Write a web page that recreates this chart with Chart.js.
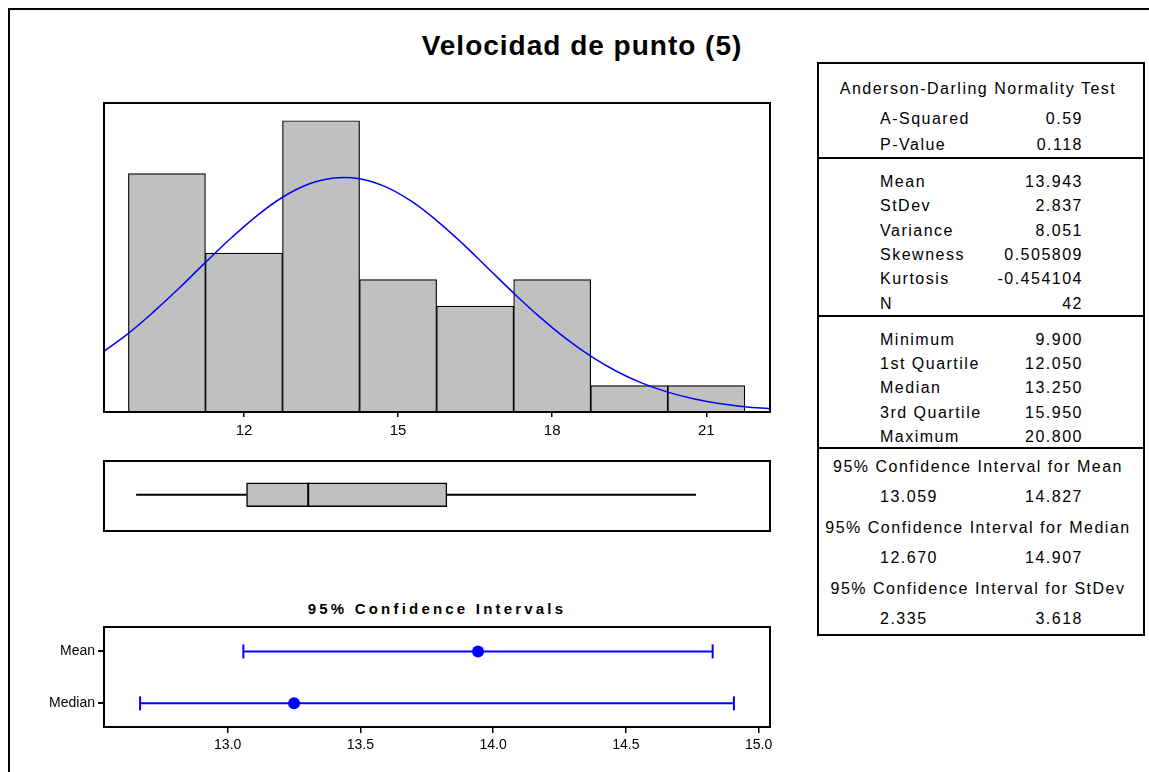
<!DOCTYPE html>
<html><head><meta charset="utf-8">
<script src="https://cdn.jsdelivr.net/npm/chart.js@4.4.1/dist/chart.umd.min.js"></script>
<style>
html,body{margin:0;padding:0;background:#fff;}
body{width:1149px;height:772px;position:relative;overflow:hidden;font-family:"Liberation Sans",Arial,sans-serif;color:#000;}
canvas{position:absolute;left:0;top:0;}
.t{position:absolute;white-space:nowrap;height:20px;line-height:20px;font-size:16px;letter-spacing:1.5px;}
.line{position:absolute;background:#000;}
</style></head><body>
<div class="line" style="left:8px;top:8px;width:1141px;height:2px"></div>
<div class="line" style="left:8px;top:8px;width:2px;height:764px"></div>
<div id="mainTitle" class="t" style="left:582px;top:30px;height:32px;line-height:32px;font-size:28px;font-weight:bold;letter-spacing:1px;transform:translateX(-50%)">Velocidad de punto (5)</div>
<div id="ciTitle" class="t" style="left:437px;top:599px;font-size:15px;font-weight:bold;letter-spacing:3.2px;transform:translateX(-50%)">95% Confidence Intervals</div>
<div style="position:absolute;left:817px;top:62px;width:328px;height:574px;border:2px solid #000;box-sizing:border-box"></div>
<div class="line" style="left:817px;top:157px;width:328px;height:2px"></div>
<div class="line" style="left:817px;top:315px;width:328px;height:2px"></div>
<div class="line" style="left:817px;top:447px;width:328px;height:2px"></div>
<div id="stats"></div>
<canvas id="hist" width="1149" height="772"></canvas>
<canvas id="box" width="1149" height="772"></canvas>
<canvas id="ci" width="1149" height="772"></canvas>
<script>
// ---- data ----
const binCenters = [10.5, 12, 13.5, 15, 16.5, 18, 19.5, 21];
const binCounts  = [9, 6, 11, 5, 4, 5, 1, 1];
const histTicks  = [12, 15, 18, 21];
const curveX = [9.25, 9.75, 10.25, 10.75, 11.25, 11.75, 12.25, 12.75, 13.25, 13.75, 14.25, 14.75, 15.25, 15.75, 16.25, 16.75, 17.25, 17.75, 18.25, 18.75, 19.25, 19.75, 20.25, 20.75, 21.25, 21.75, 22.25];
const curveY = [2.26, 2.97, 3.80, 4.70, 5.65, 6.57, 7.41, 8.11, 8.60, 8.84, 8.81, 8.51, 7.97, 7.23, 6.37, 5.43, 4.49, 3.60, 2.80, 2.11, 1.54, 1.09, 0.75, 0.50, 0.32, 0.20, 0.12];

const adLabels = ['A-Squared', 'P-Value'];
const adValues = ['0.59', '0.118'];
const descLabels = ['Mean', 'StDev', 'Variance', 'Skewness', 'Kurtosis', 'N'];
const descValues = ['13.943', '2.837', '8.051', '0.505809', '-0.454104', '42'];
const quantLabels = ['Minimum', '1st Quartile', 'Median', '3rd Quartile', 'Maximum'];
const quantValues = ['9.900', '12.050', '13.250', '15.950', '20.800'];
const ciHeads = ['95% Confidence Interval for Mean', '95% Confidence Interval for Median', '95% Confidence Interval for StDev'];
const ciLow  = ['13.059', '12.670', '2.335'];
const ciHigh = ['14.827', '14.907', '3.618'];
const ciCategories = ['Median', 'Mean'];
const ciTicks = [13.0, 13.5, 14.0, 14.5, 15.0];

// ---- text panel ----
const stats = document.getElementById('stats');
function place(text, x, y, align) {
  const d = document.createElement('div');
  d.className = 't';
  d.textContent = text;
  d.style.top = (y - 10) + 'px';
  if (align === 'right') { d.style.right = (1149 - x) + 'px'; }
  else if (align === 'center') { d.style.left = x + 'px'; d.style.transform = 'translateX(-50%)'; }
  else { d.style.left = x + 'px'; }
  stats.appendChild(d);
}
const LX = 880, RX = 1083, CX = 978;
place('Anderson-Darling Normality Test', CX, 89, 'center');
adLabels.forEach((l, i) => { place(l, LX, 119 + i * 26, 'left'); place(adValues[i], RX, 119 + i * 26, 'right'); });
descLabels.forEach((l, i) => { place(l, LX, 182 + i * 24.3, 'left'); place(descValues[i], RX, 182 + i * 24.3, 'right'); });
quantLabels.forEach((l, i) => { place(l, LX, 339.5 + i * 24.4, 'left'); place(quantValues[i], RX, 339.5 + i * 24.4, 'right'); });
ciHeads.forEach((h, i) => {
  place(h, CX, 467 + i * 61, 'center');
  place(ciLow[i], LX, 497 + i * 61, 'left');
  place(ciHigh[i], RX, 497 + i * 61, 'right');
});

// ---- charts ----
Chart.defaults.font.family = "'Liberation Sans', Arial, sans-serif";
Chart.defaults.color = '#000';
const frame = {
  id: 'frame',
  afterDatasetsDraw(chart) {
    const a = chart.chartArea, c = chart.ctx;
    c.save(); c.strokeStyle = '#000'; c.lineWidth = 2;
    c.strokeRect(a.left, a.top, a.right - a.left, a.bottom - a.top);
    c.restore();
  }
};
const common = { responsive: false, animation: false, events: [],
  plugins: { legend: { display: false }, tooltip: { enabled: false }, title: { display: false } } };

const X_MIN = 9.275, X_MAX = 22.24;

new Chart(document.getElementById('hist'), {
  type: 'bar',
  data: { datasets: [
    { type: 'line', data: curveX.map((x, i) => ({ x, y: curveY[i] })), borderColor: '#0000FF', borderWidth: 1.5,
      pointRadius: 0, tension: 0.4, order: 0 },
    { type: 'bar', data: binCenters.map((x, i) => ({ x, y: binCounts[i] })), backgroundColor: '#C0C0C0',
      borderColor: '#000', borderWidth: 1.2, borderSkipped: false, barPercentage: 1, categoryPercentage: 1, order: 1 }
  ] },
  options: Object.assign({}, common, {
    layout: { padding: { left: 104, right: 379, top: 103, bottom: 330 } },
    scales: {
      x: { type: 'linear', min: X_MIN, max: X_MAX, offset: false,
        afterBuildTicks: s => { s.ticks = histTicks.map(v => ({ value: v })); },
        afterFit: s => { s.height = 30; },
        grid: { drawOnChartArea: false, drawTicks: true, tickLength: 5, color: '#000', lineWidth: 1.5, offset: false },
        border: { display: false },
        ticks: { font: { size: 15 }, padding: 5, maxRotation: 0, autoSkip: false, color: '#000' } },
      y: { display: false, min: 0, max: 11.67 }
    }
  }),
  plugins: [frame]
});

const boxMin = +quantValues[0], boxQ1 = +quantValues[1], boxMed = +quantValues[2], boxQ3 = +quantValues[3], boxMax = +quantValues[4];
const blk = { type: 'line', borderColor: '#000', borderWidth: 2, pointRadius: 0, order: 0 };
new Chart(document.getElementById('box'), {
  type: 'bar',
  data: { datasets: [
    Object.assign({}, blk, { data: [{ x: boxMin, y: 0 }, { x: boxQ1, y: 0 }] }),
    Object.assign({}, blk, { data: [{ x: boxQ3, y: 0 }, { x: boxMax, y: 0 }] }),
    Object.assign({}, blk, { data: [{ x: boxMed, y: -0.33 }, { x: boxMed, y: 0.33 }] }),
    { type: 'bar', data: [{ x: [boxQ1, boxQ3], y: 0 }], backgroundColor: '#C0C0C0', borderColor: '#000',
      borderWidth: 1.5, borderSkipped: false, barThickness: 24, order: 1 }
  ] },
  options: Object.assign({}, common, {
    indexAxis: 'y',
    layout: { padding: { left: 104, right: 379, top: 461, bottom: 241 } },
    scales: {
      x: { type: 'linear', min: X_MIN, max: X_MAX, display: false, offset: false },
      y: { type: 'linear', min: -1, max: 0.93, display: false, offset: false }
    }
  }),
  plugins: [frame]
});

const blue = '#0000FF';
const ciLine = { borderColor: blue, borderWidth: 2, pointStyle: 'line', pointRadius: 7, rotation: 90,
  pointBorderColor: blue, pointBorderWidth: 2 };
new Chart(document.getElementById('ci'), {
  type: 'line',
  data: { datasets: [
    Object.assign({}, ciLine, { data: [{ x: +ciLow[0], y: 2 }, { x: +ciHigh[0], y: 2 }] }),
    Object.assign({}, ciLine, { data: [{ x: +ciLow[1], y: 1 }, { x: +ciHigh[1], y: 1 }] }),
    { data: [{ x: +descValues[0], y: 2 }, { x: +quantValues[2], y: 1 }], showLine: false, pointStyle: 'circle',
      pointRadius: 6, pointBackgroundColor: blue, pointBorderColor: blue, pointBorderWidth: 0 }
  ] },
  options: Object.assign({}, common, {
    layout: { padding: { left: 0, right: 379, top: 627, bottom: 15 } },
    scales: {
      x: { type: 'linear', min: 12.534, max: 15.043,
        afterBuildTicks: s => { s.ticks = ciTicks.map(v => ({ value: v })); },
        afterFit: s => { s.height = 30; },
        grid: { drawOnChartArea: false, drawTicks: true, tickLength: 6, color: '#000', lineWidth: 1.5 },
        border: { display: false },
        ticks: { font: { size: 14 }, padding: 4, maxRotation: 0, autoSkip: false, color: '#000',
          callback: v => Number(v).toFixed(1) } },
      y: { type: 'linear', min: 0.545, max: 2.47,
        afterBuildTicks: s => { s.ticks = [{ value: 1 }, { value: 2 }]; },
        afterFit: s => { s.width = 104; },
        grid: { drawOnChartArea: false, drawTicks: true, tickLength: 6, color: '#000', lineWidth: 2 },
        border: { display: false },
        ticks: { font: { size: 14 }, padding: 3, color: '#000', callback: v => ciCategories[v - 1] || '' } }
    }
  }),
  plugins: [frame]
});
</script>
</body></html>
